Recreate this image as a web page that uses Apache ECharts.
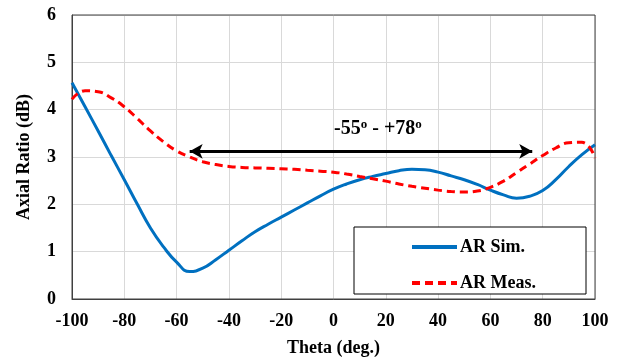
<!DOCTYPE html>
<html>
<head>
<meta charset="utf-8">
<script src="https://cdn.jsdelivr.net/npm/echarts@6/dist/echarts.min.js"></script>
<style>
  html, body { margin: 0; padding: 0; background: #fff; }
  #chart { width: 622px; height: 362px; }
</style>
</head>
<body>
<div id="chart"></div>
<script>
    // 数据：角度（每 5 度）与轴比
    const theta  = [-100, -95, -90, -85, -80, -75, -70, -65, -60, -55, -50, -45, -40, -35, -30, -25, -20, -15, -10, -5, 0,
                    5, 10, 15, 20, 25, 30, 35, 40, 45, 50, 55, 60, 65, 70, 75, 80, 85, 90, 95, 100]
    const simAR  = [4.57, 4.06, 3.55, 3.03, 2.52, 2.00, 1.50, 1.10, 0.78, 0.58, 0.65, 0.83, 1.03, 1.23, 1.42, 1.58, 1.73, 1.88, 2.03, 2.18, 2.32,
                    2.43, 2.52, 2.59, 2.65, 2.71, 2.74, 2.73, 2.68, 2.60, 2.52, 2.42, 2.30, 2.20, 2.13, 2.17, 2.29, 2.52, 2.80, 3.05, 3.26]
    const measAR = [4.22, 4.40, 4.38, 4.25, 4.06, 3.81, 3.55, 3.32, 3.13, 3.00, 2.90, 2.84, 2.80, 2.78, 2.77, 2.76, 2.75, 2.74, 2.72, 2.70, 2.68,
                    2.64, 2.59, 2.54, 2.49, 2.43, 2.38, 2.34, 2.30, 2.27, 2.26, 2.28, 2.36, 2.49, 2.67, 2.85, 3.03, 3.19, 3.30, 3.31, 2.98]
    const seriesNames = ['AR Sim.', 'AR Meas.']
    const bandwidth = [-55, 76]     // 箭头范围
    const xTicks = { min: -100, max: 100, step: 20 }
    const yTicks = { min: 0, max: 6, step: 1 }

    const font = 'Liberation Serif'
    const pair = ys => theta.map((x, i) => [x, ys[i]])

    let chart = echarts.init(document.getElementById('chart'))

    let axisLabel = { color: '#000', fontFamily: font, fontWeight: 'bold', fontSize: 18 }
    let nameStyle = { color: '#000', fontFamily: font, fontWeight: 'bold', fontSize: 18 }
    let splitLine = { show: true, lineStyle: { color: '#d9d9d9', width: 1 } }

    chart.setOption({
        animation: false,
        grid: { left: 72, right: 27, top: 15, bottom: 61, show: true, borderColor: '#404040', borderWidth: 1, z: 1 },
        xAxis: {
            type: 'value', min: xTicks.min, max: xTicks.max, interval: xTicks.step,
            name: 'Theta (deg.)', nameLocation: 'middle', nameGap: 40, nameTextStyle: nameStyle,
            axisLine: { onZero: false, lineStyle: { color: '#404040' } }, axisTick: { show: false },
            axisLabel: Object.assign({ margin: 13 }, axisLabel), splitLine
        },
        yAxis: {
            type: 'value', min: yTicks.min, max: yTicks.max, interval: yTicks.step,
            name: 'Axial Ratio (dB)', nameLocation: 'middle', nameGap: 39, nameTextStyle: nameStyle,
            axisLine: { show: true, onZero: false, lineStyle: { color: '#404040' } }, axisTick: { show: false },
            axisLabel: Object.assign({ margin: 16 }, axisLabel), splitLine
        },
        legend: {
            orient: 'vertical', left: 410, top: 238, padding: 0,
            itemWidth: 45, itemHeight: 14, itemGap: 18, z: 10,
            itemStyle: { opacity: 0 },
            lineStyle: { width: 4 },
            textStyle: { color: '#000', fontFamily: font, fontWeight: 'bold', fontSize: 18, padding: [0, 0, 0, -2] },
            data: seriesNames
        },
        graphic: [{
            type: 'rect', z: 5,
            shape: { x: 354, y: 227, width: 232, height: 67 },
            style: { fill: '#fff', stroke: '#000', lineWidth: 1 }
        }],
        series: [
            {
                name: seriesNames[0], type: 'line', smooth: 0.5, showSymbol: false, symbol: 'none',
                data: pair(simAR),
                lineStyle: { color: '#0070C0', width: 3 }, itemStyle: { color: '#0070C0' },
                markLine: {
                    silent: true, symbol: ['arrow', 'arrow'], symbolSize: [11, 13],
                    label: { show: false },
                    lineStyle: { color: '#000', width: 3, type: 'solid' },
                    data: [[{ coord: [bandwidth[0], 3.12] }, { coord: [bandwidth[1], 3.12] }]]
                },
                markPoint: {
                    silent: true, symbol: 'circle', symbolSize: 0,
                    data: [{ coord: [17, 3.6] }],
                    label: {
                        show: true, position: 'inside',
                        formatter: '-55{s|o} - +78{s|o}',
                        color: '#000', fontFamily: font, fontWeight: 'bold', fontSize: 20,
                        rich: { s: { fontFamily: font, fontWeight: 'bold', fontSize: 13, color: '#000', padding: [0, 0, 8, 0] } }
                    }
                }
            },
            {
                name: seriesNames[1], type: 'line', smooth: 0.5, showSymbol: false, symbol: 'none',
                data: pair(measAR),
                lineStyle: { color: '#FF0000', width: 3, type: [8, 5] }, itemStyle: { color: '#FF0000' }
            }
        ]
    })
</script>
</body>
</html>
